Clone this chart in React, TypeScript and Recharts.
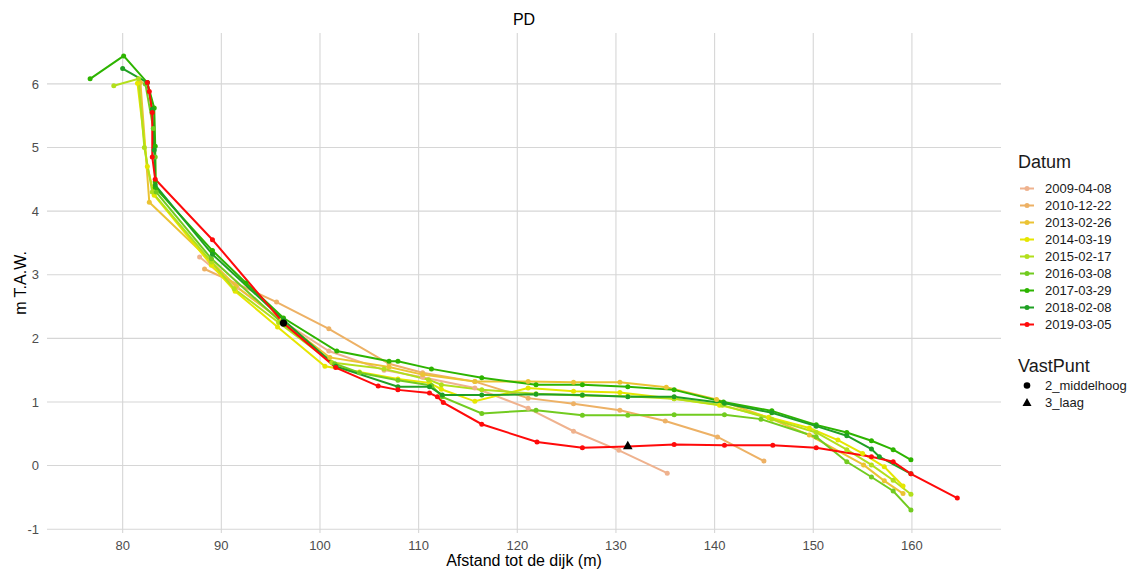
import { ComposedChart, Line, Scatter, XAxis, YAxis, CartesianGrid, Label } from "recharts";

const FONT = '"Liberation Sans", Arial, Helvetica, sans-serif';

// survey dates and their colours
const datums = [
	"2009-04-08",
	"2010-12-22",
	"2013-02-26",
	"2014-03-19",
	"2015-02-17",
	"2016-03-08",
	"2017-03-29",
	"2018-02-08",
	"2019-03-05",
];
const colors = [
	"#EFB28E",
	"#EDB165",
	"#EBC334",
	"#E6E600",
	"#B2DF1C",
	"#72CB20",
	"#2DB400",
	"#1FA024",
	"#FF0A0A",
];

// profiles: [afstand (m), hoogte (m T.A.W.)]
const p2009: [number, number][] = [
	[87.8, 3.28], [91.6, 2.8], [96.1, 2.28], [100.9, 1.8], [106.5, 1.5], [110.4, 1.39],
	[115.7, 1.22], [121.1, 0.9], [125.7, 0.54], [130.3, 0.24], [135.2, -0.12],
];
const p2010: [number, number][] = [
	[88.3, 3.09], [95.6, 2.57], [100.9, 2.15], [107.0, 1.6], [110.4, 1.46], [115.7, 1.32],
	[121.1, 1.06], [125.7, 0.97], [130.4, 0.87], [135.0, 0.7], [140.3, 0.45], [145.0, 0.07],
];
const p2013: [number, number][] = [
	[81.8, 6.02], [82.7, 4.14], [88.9, 3.22], [91.5, 2.82], [96.1, 2.28], [101.0, 1.7],
	[107.0, 1.55], [110.4, 1.43], [115.7, 1.32], [121.1, 1.32], [125.7, 1.31], [130.4, 1.31],
	[135.1, 1.23], [140.2, 1.04], [145.5, 0.75], [149.6, 0.48], [155.1, 0.01], [157.2, -0.24],
	[159.1, -0.44],
];
const p2014: [number, number][] = [
	[81.5, 6.01], [82.5, 4.7], [83.2, 4.25], [89.0, 3.15], [91.4, 2.74], [95.7, 2.18],
	[100.5, 1.56], [104.0, 1.47], [107.9, 1.36], [111.1, 1.3], [112.3, 1.2], [115.7, 1.01],
	[121.1, 1.22], [125.7, 1.17], [130.4, 1.15], [135.9, 1.05], [140.5, 0.95], [145.5, 0.76],
	[149.6, 0.59], [152.5, 0.4], [155.0, 0.19], [157.2, -0.02], [159.1, -0.32],
];
const p2015: [number, number][] = [
	[79.1, 5.97], [81.6, 6.08], [82.2, 5.0], [83.0, 4.3], [89.0, 3.2], [91.3, 2.78],
	[95.8, 2.25], [101.2, 1.62], [106.5, 1.52], [111.0, 1.35], [112.3, 1.27], [116.4, 1.19],
	[121.9, 1.13], [126.6, 1.1], [131.2, 1.09], [135.9, 1.05], [140.8, 0.95], [145.8, 0.73],
	[150.3, 0.52], [153.4, 0.25], [155.9, 0.01], [158.1, -0.23], [159.9, -0.45],
];
const p2016: [number, number][] = [
	[82.3, 6.0], [83.1, 5.3], [83.3, 4.85], [83.4, 4.3], [89.0, 3.25], [96.1, 2.25],
	[101.5, 1.6], [104.0, 1.46], [107.9, 1.34], [111.3, 1.26], [112.4, 1.08], [116.4, 0.82],
	[121.9, 0.87], [126.6, 0.79], [131.2, 0.79], [135.9, 0.8], [141.0, 0.8], [144.7, 0.73],
	[150.3, 0.45], [153.4, 0.06], [155.9, -0.18], [158.1, -0.4], [159.9, -0.7],
];
const p2017: [number, number][] = [
	[76.7, 6.08], [80.1, 6.44], [82.5, 6.02], [83.2, 5.62], [83.3, 5.02], [83.3, 4.46],
	[83.3, 4.37], [89.1, 3.38], [92.5, 2.87], [96.3, 2.32], [101.7, 1.8], [107.0, 1.64],
	[107.9, 1.64], [111.3, 1.52], [116.4, 1.38], [121.9, 1.27], [126.6, 1.27], [131.2, 1.24],
	[135.9, 1.19], [140.9, 1.0], [145.8, 0.86], [150.3, 0.64], [153.4, 0.52], [155.9, 0.39],
	[158.1, 0.25], [159.9, 0.09],
];
const p2018: [number, number][] = [
	[80.0, 6.24], [82.5, 6.02], [83.0, 5.6], [83.2, 4.96], [83.3, 4.41], [89.1, 3.32],
	[96.3, 2.29], [101.6, 1.56], [107.9, 1.24], [111.1, 1.24], [112.4, 1.11], [116.4, 1.11],
	[121.9, 1.12], [126.6, 1.11], [131.2, 1.08], [135.9, 1.08], [141.0, 0.98], [145.8, 0.83],
	[150.3, 0.62], [153.4, 0.47], [155.9, 0.26], [156.7, 0.14], [159.9, -0.13],
];
const p2019: [number, number][] = [
	[82.5, 6.02], [82.7, 5.88], [83.0, 5.55], [83.0, 4.85], [83.3, 4.5], [89.1, 3.55],
	[96.3, 2.24], [101.6, 1.54], [105.9, 1.25], [107.9, 1.19], [111.1, 1.14], [111.9, 1.08],
	[112.5, 0.99], [116.4, 0.65], [122.0, 0.37], [126.6, 0.28], [131.2, 0.3], [135.9, 0.33],
	[141.0, 0.32], [145.9, 0.32], [150.3, 0.28], [155.9, 0.14], [158.1, 0.06], [159.9, -0.13],
	[164.6, -0.51],
];
const profiles = [p2009, p2010, p2013, p2014, p2015, p2016, p2017, p2018, p2019];

// vaste punten
const middelhoog: [number, number][] = [[96.3, 2.24]];
const laag: [number, number][] = [[131.2, 0.31]];

const xTicks = [80, 90, 100, 110, 120, 130, 140, 150, 160];
const yTicks = [-1, 0, 1, 2, 3, 4, 5, 6];
const xDomain = [72.33, 169.03];
const yDomain = [-1.06, 6.8];

const toRows = (pts: [number, number][]) => pts.map(([x, y]) => ({ x, y }));

const tickStyle = { fill: "#4D4D4D", fontSize: 13, fontFamily: FONT };

// grid only on the major ticks, no frame round the panel
const vGrid = ({ offset }: any) =>
	xTicks.map((t) => offset.left + ((t - xDomain[0]) / (xDomain[1] - xDomain[0])) * offset.width);
const hGrid = ({ offset }: any) =>
	yTicks.map((t) => offset.top + ((yDomain[1] - t) / (yDomain[1] - yDomain[0])) * offset.height);

const Dot = (props: any) => <circle cx={props.cx} cy={props.cy} r={3.6} fill="#000" />;
const Tri = (props: any) => {
	const { cx, cy } = props;
	return <polygon points={`${cx},${cy - 5} ${cx - 4.8},${cy + 3.5} ${cx + 4.8},${cy + 3.5}`} fill="#000" />;
};

const LegendBox = () => (
	<div style={{ position: "absolute", left: 1018, top: 0, fontFamily: FONT, color: "#1A1A1A" }}>
		<div style={{ position: "absolute", top: 151, fontSize: 18, lineHeight: "22px", whiteSpace: "nowrap" }}>Datum</div>
		{datums.map((d, i) => (
			<div
				key={d}
				style={{ position: "absolute", top: 188 + i * 17 - 8.5, height: 17, display: "flex", alignItems: "center", whiteSpace: "nowrap" }}
			>
				<svg width={20} height={17}>
					<line x1={2} x2={16} y1={8.5} y2={8.5} stroke={colors[i]} strokeWidth={2} />
					<circle cx={9} cy={8.5} r={2.5} fill={colors[i]} />
				</svg>
				<span style={{ marginLeft: 7, fontSize: 13 }}>{d}</span>
			</div>
		))}
		<div style={{ position: "absolute", top: 355, fontSize: 18, lineHeight: "22px", whiteSpace: "nowrap" }}>VastPunt</div>
		<div style={{ position: "absolute", top: 385 - 8.5, height: 17, display: "flex", alignItems: "center", whiteSpace: "nowrap" }}>
			<svg width={20} height={17}>
				<circle cx={9} cy={8.5} r={3.3} fill="#000" />
			</svg>
			<span style={{ marginLeft: 7, fontSize: 13 }}>2_middelhoog</span>
		</div>
		<div style={{ position: "absolute", top: 402 - 8.5, height: 17, display: "flex", alignItems: "center", whiteSpace: "nowrap" }}>
			<svg width={20} height={17}>
				<polygon points="9,4 4.5,12 13.5,12" fill="#000" />
			</svg>
			<span style={{ marginLeft: 7, fontSize: 13 }}>3_laag</span>
		</div>
	</div>
);

export default function App() {
	return (
		<div style={{ position: "relative", width: 1136, height: 572, background: "#fff", overflow: "hidden" }}>
			<style>{"body{margin:0}"}</style>
			<div
				style={{
					position: "absolute",
					left: 47,
					width: 954,
					top: 10,
					textAlign: "center",
					fontFamily: FONT,
					fontSize: 16,
					lineHeight: "20px",
					color: "#000",
				}}
			>
				PD
			</div>
			<ComposedChart width={1136} height={572} margin={{ top: 33, right: 135, bottom: 0, left: 0 }}>
				<CartesianGrid
					stroke="#D6D6D6"
					strokeWidth={1.1}
					verticalCoordinatesGenerator={vGrid}
					horizontalCoordinatesGenerator={hGrid}
				/>
				<XAxis
					type="number"
					dataKey="x"
					domain={xDomain}
					ticks={xTicks}
					allowDataOverflow
					axisLine={false}
					tickLine={false}
					height={39}
					tick={tickStyle}
				>
					<Label
						value="Afstand tot de dijk (m)"
						position="insideBottom"
						offset={6}
						style={{ fill: "#000", fontSize: 16, fontFamily: FONT }}
					/>
				</XAxis>
				<YAxis
					type="number"
					dataKey="y"
					domain={yDomain}
					ticks={yTicks}
					allowDataOverflow
					axisLine={false}
					tickLine={false}
					width={47}
					tick={tickStyle}
				>
					<Label
						value="m T.A.W."
						angle={-90}
						position="insideLeft"
						offset={20}
						style={{ fill: "#000", fontSize: 16, fontFamily: FONT, textAnchor: "middle" }}
					/>
				</YAxis>
				{profiles.map((p, i) => (
					<Line
						key={datums[i]}
						data={toRows(p)}
						dataKey="y"
						type="linear"
						stroke={colors[i]}
						strokeWidth={2}
						dot={{ r: 2.5, fill: colors[i], stroke: "none" }}
						activeDot={false}
						isAnimationActive={false}
					/>
				))}
				<Scatter data={toRows(middelhoog)} dataKey="y" shape={Dot} isAnimationActive={false} />
				<Scatter data={toRows(laag)} dataKey="y" shape={Tri} isAnimationActive={false} />
			</ComposedChart>
			<LegendBox />
		</div>
	);
}
